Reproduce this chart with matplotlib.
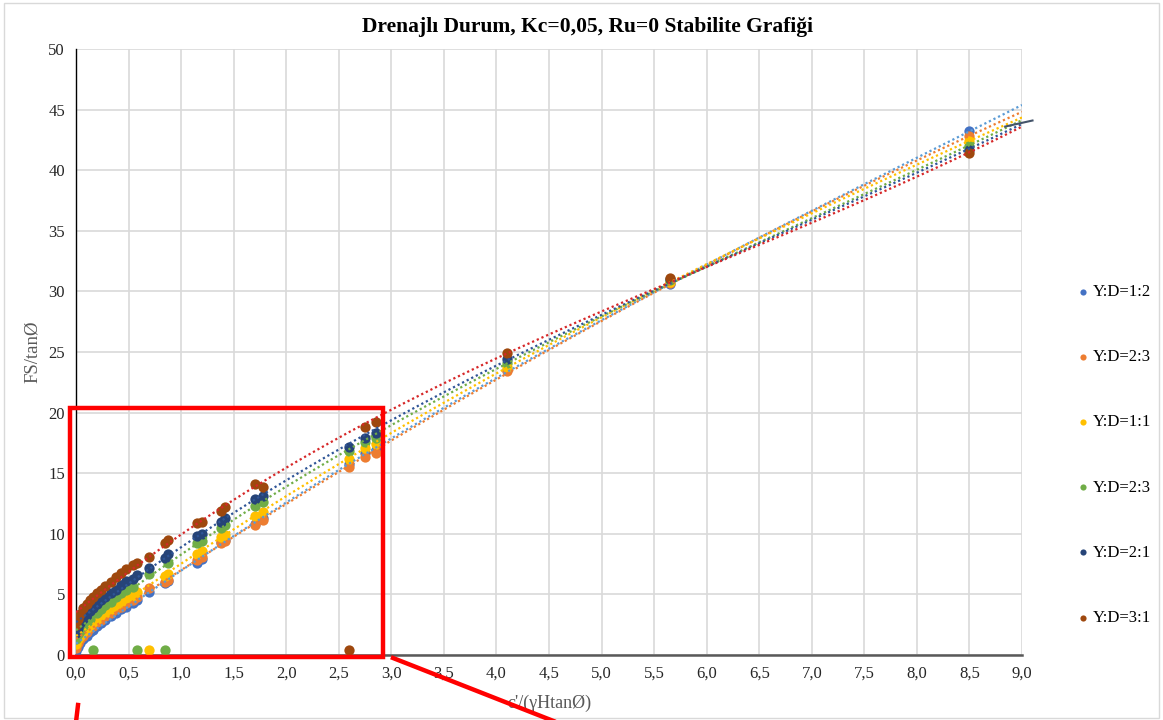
import matplotlib.pyplot as plt
import numpy as np
from matplotlib.lines import Line2D
from matplotlib.patches import Rectangle

plt.rcParams['font.family'] = ['Liberation Serif', 'DejaVu Serif']

# c'/(gamma H tan phi) values shared by all slope ratios
x = [0.00, 0.02, 0.04, 0.07, 0.10, 0.13, 0.16, 0.20, 0.24, 0.28, 0.33, 0.38, 0.43, 0.48, 0.54, 0.58,
     0.69, 0.85, 0.88, 1.15, 1.20, 1.38, 1.42, 1.70, 1.78, 2.60, 2.75, 2.85, 4.10, 5.65, 8.50]

# FS/tan phi for each slope ratio
fs_12 = [0.3, 0.7, 1.0, 1.3, 1.6, 1.9, 2.1, 2.4, 2.6, 2.9, 3.2, 3.5, 3.8, 4.0, 4.3, 4.5,
         5.2, 5.9, 6.1, 7.6, 7.9, 9.3, 9.5, 10.8, 11.3, 15.8, 16.7, 16.9, 23.5, 30.6, 43.2]
fs_23a = [0.6, 1.0, 1.3, 1.6, 1.9, 2.2, 2.4, 2.7, 2.9, 3.2, 3.5, 3.8, 4.0, 4.3, 4.5, 4.8,
          5.5, 6.0, 6.2, 7.8, 8.1, 9.2, 9.4, 10.7, 11.1, 15.5, 16.3, 16.7, 23.4, 30.7, 42.8]
fs_11 = [0.9, 1.3, 1.6, 1.9, 2.2, 2.5, 2.7, 3.0, 3.3, 3.5, 3.8, 4.1, 4.4, 4.7, 4.9, 5.2,
         0.4, 6.5, 6.7, 8.3, 8.6, 9.7, 9.9, 11.5, 11.8, 16.2, 17.1, 17.4, 23.8, 30.8, 42.4]
fs_23b = [1.3, 1.7, 2.0, 2.4, 2.7, 3.0, 0.4, 3.5, 3.8, 4.1, 4.4, 4.8, 5.1, 5.4, 5.6, 0.4,
          6.7, 0.4, 7.6, 9.2, 9.4, 10.5, 10.7, 12.3, 12.6, 16.8, 17.6, 17.9, 24.1, 30.9, 42.0]
fs_21 = [1.8, 2.2, 2.6, 3.0, 3.3, 3.6, 3.9, 4.2, 4.5, 4.8, 5.1, 5.4, 5.8, 6.1, 6.3, 6.6,
         7.2, 8.0, 8.3, 9.8, 10.0, 11.0, 11.3, 12.9, 13.1, 17.2, 17.9, 18.3, 24.4, 31.0, 41.7]
fs_31 = [2.5, 3.0, 3.4, 3.9, 4.2, 4.5, 4.8, 5.1, 5.4, 5.7, 6.0, 6.4, 6.8, 7.1, 7.4, 7.6,
         8.1, 9.2, 9.5, 10.9, 11.0, 11.9, 12.2, 14.1, 13.9, 0.4, 18.8, 19.2, 24.9, 31.1, 41.4]

labels = ['Y:D=1:2', 'Y:D=2:3', 'Y:D=1:1', 'Y:D=2:3', 'Y:D=2:1', 'Y:D=3:1']
series = [fs_12, fs_23a, fs_11, fs_23b, fs_21, fs_31]
marker_colors = ['#4472C4', '#ED7D31', '#FFC000', '#70AD47', '#264478', '#9E480E']
trend_colors = ['#5B9BD5', '#ED7D31', '#FFC000', '#70AD47', '#2F5597', '#D62728']

W, H = 1163, 720
fig = plt.figure(figsize=(W / 100, H / 100), dpi=100)
ax = fig.add_axes([76 / W, 1 - 655 / H, (1022 - 76) / W, (655 - 49) / H])

xs = np.array(x)
xfit = np.linspace(0, 9, 200)
for ys, lab, mc, tc in zip(series, labels, marker_colors, trend_colors):
    ys = np.array(ys)
    ax.scatter(xs, ys, s=55, color=mc, label=lab, zorder=3, linewidths=0)
    # polynomial trendline, ignoring the near-zero readings
    ok = ~((ys < 1) & (xs > 0.1))
    p = np.polyfit(xs[ok], ys[ok], 3)
    ax.plot(xfit, np.polyval(p, xfit), color=tc, lw=1.6, linestyle=(0, (1, 1.3)), zorder=4)

# short segment sticking out past the right edge
ax.plot([8.84, 9.1], [43.6, 44.1], color='#44546A', lw=1.5, clip_on=False, zorder=5)

ax.set_xlim(0, 9)
ax.set_ylim(0, 50)
ax.set_xticks(np.arange(0, 9.01, 0.5))
ax.set_xticklabels([f'{v:.1f}'.replace('.', ',') for v in np.arange(0, 9.01, 0.5)])
ax.set_yticks(np.arange(0, 51, 5))
ax.grid(color='#D9D9D9', lw=1.2)
ax.set_axisbelow(True)
ax.tick_params(length=0, labelsize=12, colors='#262626', pad=8)
for s in ['top', 'right']:
    ax.spines[s].set_visible(False)
ax.spines['left'].set_color('black')
ax.spines['left'].set_linewidth(1)
ax.spines['bottom'].set_color('#595959')
ax.spines['bottom'].set_linewidth(1.8)

fig.text(587 / W, 1 - 27 / H, 'Drenajlı Durum, Kc=0,05, Ru=0 Stabilite Grafiği', fontsize=15.5,
         fontweight='bold', ha='center', va='center')
ax.set_xlabel("c'/(γHtanØ)", fontsize=13, color='#595959', labelpad=9)
ax.set_ylabel('FS/tanØ', fontsize=13.5, color='#595959', labelpad=5)

fig.legend(loc='center left', bbox_to_anchor=(1069 / W, 1 - 455 / H), frameon=False,
           fontsize=12, labelspacing=2.95, handletextpad=0.1, handlelength=0.9,
           markerscale=0.6, borderaxespad=0)

# chart border
fig.patches.append(Rectangle((4 / W, 2 / H), (W - 8) / W, (H - 5) / H, transform=fig.transFigure,
                             fill=False, edgecolor='#D9D9D9', lw=1))

# red highlight box with callout lines
def px(xp, yp):
    return xp / W, 1 - yp / H

rx0, ry0 = px(70, 657)
rx1, ry1 = px(383, 408)
fig.patches.append(Rectangle((rx0, ry0), rx1 - rx0, ry1 - ry0, transform=fig.transFigure,
                             fill=False, edgecolor='#FF0000', lw=3.2, zorder=10))
for (a, b), (c, d) in [((78, 705), (76, 722)), ((393, 658), (556, 722))]:
    x0, y0 = px(a, b)
    x1, y1 = px(c, d)
    fig.lines.append(Line2D([x0, x1], [y0, y1], transform=fig.transFigure, color='#FF0000', lw=3.2, zorder=10))

fig.savefig('out.png', dpi=100)
